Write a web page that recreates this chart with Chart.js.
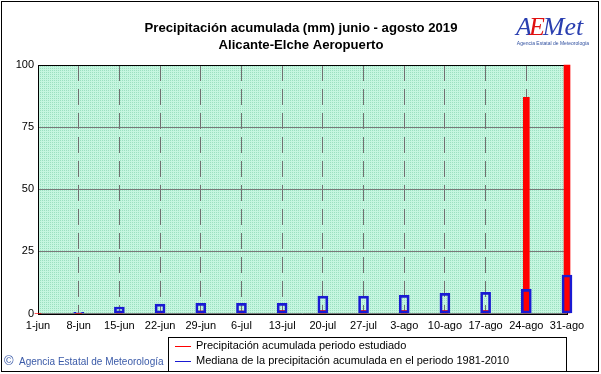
<!DOCTYPE html>
<html><head><meta charset="utf-8">
<script src="https://cdn.jsdelivr.net/npm/chart.js@4"></script>
<style>html,body{margin:0;padding:0;background:#fff;}#wrap{position:relative;width:601px;height:374px;}</style>
</head><body><div id="wrap"><canvas id="c" width="601" height="374"></canvas></div>
<script>
const categories = ['1-jun','8-jun','15-jun','22-jun','29-jun','6-jul','13-jul','20-jul','27-jul','3-ago','10-ago','17-ago','24-ago','31-ago'];
const precipEstudiado = [0,0,0.6,0.8,1.0,1.0,1.2,1.2,1.2,1.2,1.2,1.2,87,100];
const medianaNormal = [0,0.5,2.6,3.8,4.1,4.1,4.1,7.0,7.0,7.3,8.1,8.5,9.7,15.5];
const yTicks = [0,25,50,75,100];
const titleLines = ['Precipitación acumulada (mm) junio - agosto 2019','Alicante-Elche Aeropuerto'];
const legendLabels = ['Precipitación acumulada periodo estudiado','Mediana de la precipitación acumulada en el periodo 1981-2010'];
const creditText = 'Agencia Estatal de Meteorología';

const FONT = '"Liberation Sans", Arial, sans-serif';

const deco = {
  id: 'deco',
  beforeDraw(chart) {
    const {ctx, chartArea: a} = chart;
    const p = document.createElement('canvas'); p.width = 2; p.height = 2;
    const pc = p.getContext('2d');
    pc.fillStyle = '#c6f6e0'; pc.fillRect(0, 0, 2, 2);
    pc.fillStyle = '#9ce0c0'; pc.fillRect(0, 0, 1, 1);
    ctx.save();
    ctx.fillStyle = ctx.createPattern(p, 'repeat');
    ctx.fillRect(a.left, a.top, a.right - a.left, a.bottom - a.top);
    ctx.restore();
  },
  beforeDatasetsDraw(chart) {
    const {ctx, chartArea: a} = chart;
    ctx.save();
    ctx.strokeStyle = '#000'; ctx.lineWidth = 1;
    ctx.strokeRect(Math.round(a.left) + 0.5, Math.round(a.top) + 0.5, Math.round(a.right - a.left), Math.round(a.bottom - a.top));
    ctx.restore();
  },
  afterDraw(chart) {
    const {ctx} = chart;
    ctx.save();
    // outer frame
    ctx.strokeStyle = '#000'; ctx.lineWidth = 1;
    ctx.strokeRect(1.5, 1.5, 597, 370);
    // title
    ctx.fillStyle = '#000';
    ctx.textAlign = 'center'; ctx.textBaseline = 'middle';
    ctx.font = 'bold 13px ' + FONT;
    const w = ctx.measureText(titleLines[0]).width;
    const fs = 13 * 313 / w;
    ctx.font = 'bold ' + fs.toFixed(2) + 'px ' + FONT;
    ctx.fillText(titleLines[0], 301, 28);
    ctx.fillText(titleLines[1], 301, 45);
    // logo
    ctx.textAlign = 'left'; ctx.textBaseline = 'alphabetic';
    ctx.font = 'italic 26px "Liberation Serif", serif';
    ctx.fillStyle = '#2a3fb0';
    ctx.fillText('A', 516, 35);
    const wa = ctx.measureText('A').width;
    ctx.fillStyle = '#e01010';
    ctx.fillText('E', 516 + wa - 3, 35);
    const we = ctx.measureText('E').width;
    ctx.fillStyle = '#2a3fb0';
    ctx.fillText('Met', 516 + wa + we - 5, 35);
    ctx.font = '5px ' + FONT;
    ctx.fillStyle = '#3050a0';
    ctx.textAlign = 'center';
    ctx.fillText('Agencia Estatal de Meteorología', 553, 45);
    // legend
    const lx = 168.5, ly = 337.5;
    ctx.strokeStyle = '#000';
    ctx.strokeRect(lx, ly, 398, 34);
    ctx.lineWidth = 1;
    ctx.strokeStyle = '#ff0000';
    ctx.beginPath(); ctx.moveTo(175, 346.5); ctx.lineTo(191, 346.5); ctx.stroke();
    ctx.strokeStyle = '#1a1ad2';
    ctx.beginPath(); ctx.moveTo(175, 361.5); ctx.lineTo(191, 361.5); ctx.stroke();
    ctx.fillStyle = '#000';
    ctx.font = '11px ' + FONT;
    ctx.textAlign = 'left'; ctx.textBaseline = 'middle';
    ctx.fillText(legendLabels[0], 196, 346);
    ctx.fillText(legendLabels[1], 196, 361);
    // credit
    ctx.fillStyle = '#3a5aa8';
    ctx.font = '13px ' + FONT;
    ctx.fillText('©', 4, 361);
    ctx.font = '10px ' + FONT;
    ctx.fillText(creditText, 19, 362);
    ctx.restore();
  }
};

new Chart(document.getElementById('c'), {
  type: 'bar',
  data: {
    labels: categories,
    datasets: [
      {label: legendLabels[1], data: medianaNormal, backgroundColor: 'rgba(0,0,0,0)', borderColor: '#1a1ad2', borderWidth: 2, borderSkipped: false, barThickness: 10, grouped: false, order: 0, clip: false},
      {label: legendLabels[0], data: precipEstudiado, backgroundColor: '#ff0000', borderWidth: 0, barThickness: 6, grouped: false, order: 1, clip: false}
    ]
  },
  options: {
    responsive: false, animation: false, devicePixelRatio: 1,
    layout: {padding: {left: 0, top: 65, right: 34, bottom: 40.5}},
    plugins: {legend: {display: false}, title: {display: false}, tooltip: {enabled: false}},
    scales: {
      x: {
        type: 'category', offset: false,
        grid: {offset: false, color: '#707070', lineWidth: 1, drawTicks: false},
        border: {display: false, dash: [16, 8]},
        ticks: {autoSkip: false, maxRotation: 0, minRotation: 0, padding: 6, color: '#000', font: {family: FONT, size: 11}},
        afterFit(s) { s.height = 20; }
      },
      y: {
        min: 0, max: 100,
        afterBuildTicks(s) { s.ticks = yTicks.map(v => ({value: v})); },
        grid: {color: '#7a7a7a', lineWidth: 1, drawTicks: false},
        border: {display: false},
        ticks: {padding: 4, color: '#000', font: {family: FONT, size: 11}},
        afterFit(s) { s.width = 38; }
      }
    }
  },
  plugins: [deco]
});
</script>
</body></html>
